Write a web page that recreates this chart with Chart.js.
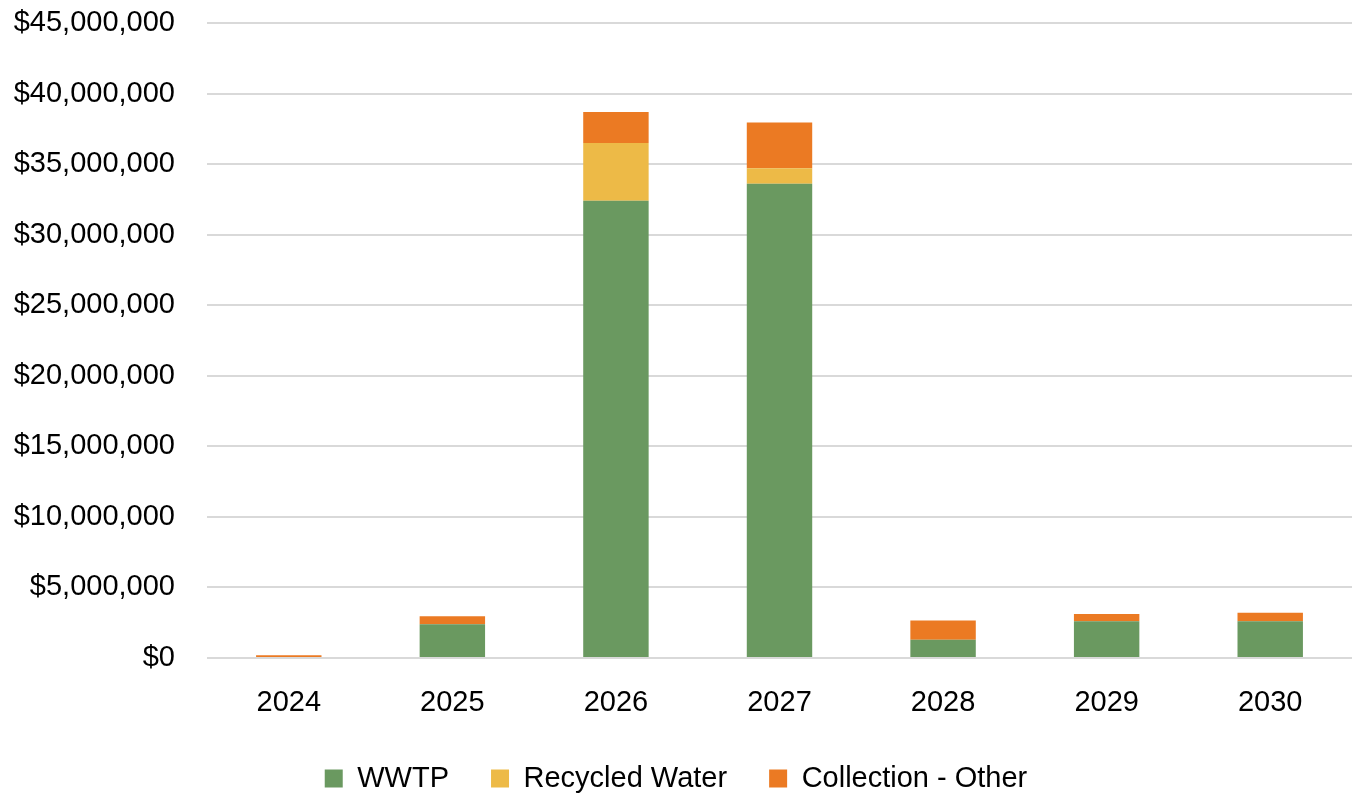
<!DOCTYPE html>
<html>
<head>
<meta charset="utf-8">
<script src="https://cdn.jsdelivr.net/npm/chart.js@4.4.1/dist/chart.umd.min.js"></script>
<style>
  html, body { margin: 0; padding: 0; background: #fff; }
  #wrap { width: 1357px; height: 796px; }
</style>
</head>
<body>
<div id="wrap"><canvas id="capex"></canvas></div>
<script>
// Capital spending by program area, per year
const years = ['2024', '2025', '2026', '2027', '2028', '2029', '2030'];
const wwtp = [0, 2400000, 32400000, 33600000, 1300000, 2600000, 2600000];
const recycledWater = [0, 0, 4100000, 1100000, 0, 0, 0];
const collectionOther = [200000, 550000, 2200000, 3250000, 1350000, 520000, 600000];
const yTicks = [0, 5000000, 10000000, 15000000, 20000000, 25000000, 30000000, 35000000, 40000000, 45000000];

const FONT = "'Liberation Sans', Arial, sans-serif";
const SIZE = 29;

function money(v) {
    return '$' + Math.round(v).toLocaleString('en-US');
}

function series(label, data, color) {
    return {
        label: label,
        data: data,
        backgroundColor: color,
        borderWidth: 0,
        barPercentage: 0.4,
        categoryPercentage: 1.0
    };
}

const ctx = document.getElementById('capex').getContext('2d');
new Chart(ctx, {
    type: 'bar',
    data: {
        labels: years,
        datasets: [
            series('WWTP', wwtp, '#6A9960'),
            series('Recycled Water', recycledWater, '#EDBA47'),
            series('Collection - Other', collectionOther, '#EB7A23')
        ]
    },
    options: {
        responsive: true,
        maintainAspectRatio: false,
        animation: false,
        layout: { padding: { top: 23, right: 5, left: 0, bottom: -7 } },
        plugins: {
            legend: {
                position: 'bottom',
                labels: {
                    font: { family: FONT, size: SIZE },
                    color: '#000',
                    boxWidth: 18,
                    boxHeight: 18,
                    padding: 42
                }
            },
            tooltip: { enabled: false }
        },
        scales: {
            x: {
                stacked: true,
                grid: { display: false },
                border: { display: false },
                afterFit: function(scale) {
                    scale.height = 64;
                },
                ticks: {
                    font: { family: FONT, size: SIZE },
                    color: '#000',
                    padding: 20
                }
            },
            y: {
                stacked: true,
                min: 0,
                max: 45000000,
                afterBuildTicks: function(scale) {
                    scale.ticks = yTicks.map(v => ({ value: v }));
                },
                afterFit: function(scale) {
                    scale.width = 207;
                },
                grid: {
                    color: '#D9D9D9',
                    lineWidth: 2,
                    drawTicks: true,
                    tickLength: 28,
                    tickColor: 'rgba(0,0,0,0)'
                },
                border: { display: false },
                ticks: {
                    font: { family: FONT, size: SIZE },
                    color: '#000',
                    padding: 4,
                    callback: v => money(v)
                }
            }
        }
    }
});
</script>
</body>
</html>
